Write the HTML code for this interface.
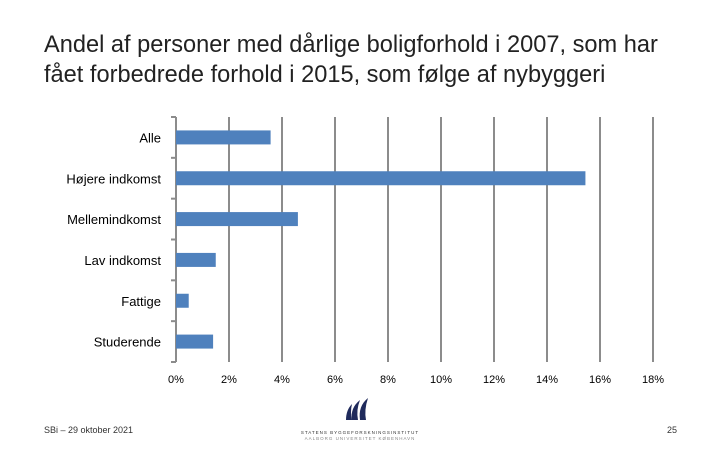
<!DOCTYPE html>
<html><head><meta charset="utf-8"><style>
body{margin:0;background:#fff;}
svg{display:block;font-family:"Liberation Sans",sans-serif;}
</style></head><body>
<svg width="720" height="450" viewBox="0 0 720 450">
<text x="44" y="52" font-size="23.6" fill="#222">Andel af personer med dårlige boligforhold i 2007, som har</text>
<text x="44" y="82" font-size="23.6" fill="#222">fået forbedrede forhold i 2015, som følge af nybyggeri</text>
<g id="grid"></g><g id="bars"></g><g id="ylabels"></g><g id="xlabels"></g>
<text x="44" y="433" font-size="9" fill="#333">SBi – 29 oktober 2021</text>
<text x="677" y="433" font-size="9" fill="#333" text-anchor="end">25</text>
<g>
<path d="M352 420 Q350 408 360 400 Q356 410 358 420Z M360 420 Q358 406 368 398 Q364 410 366 420Z M346 420 Q346 410 352 404 Q350 412 352 420Z" fill="#1f2a5c"/>
<text x="360" y="434" font-size="4.5" text-anchor="middle" fill="#333" letter-spacing="1">STATENS BYGGEFORSKNINGSINSTITUT</text>
<text x="360" y="440" font-size="4.5" text-anchor="middle" fill="#888" letter-spacing="1">AALBORG UNIVERSITET KØBENHAVN</text>
</g>
</svg>
<script>
const categories=["Alle","Højere indkomst","Mellemindkomst","Lav indkomst","Fattige","Studerende"];
const values=[3.57,15.45,4.6,1.5,0.48,1.4];
const ticks=[0,2,4,6,8,10,12,14,16,18];
const NS="http://www.w3.org/2000/svg";
const x0=176,x1=653,xmax=18,yTop=117,yBot=362;
const xs=v=>x0+(x1-x0)*v/xmax;
const band=(yBot-yTop)/categories.length;
function mk(t,a,p){const e=document.createElementNS(NS,t);for(const k in a)e.setAttribute(k,a[k]);document.getElementById(p).appendChild(e);return e;}
ticks.forEach((t,i)=>{
 if(i>0){const l=mk('line',{x1:xs(t),x2:xs(t),y1:yTop,y2:yBot,stroke:'#8c8c8c','stroke-width':2},'grid');
 
 }
 const tx=mk('text',{x:xs(t),y:383,'font-size':11,'text-anchor':'middle',fill:'#000'},'xlabels');
 tx.textContent=t+'%';
 
 
});
const ax=mk('line',{x1:x0,x2:x0,y1:yTop,y2:yBot,stroke:'#8c8c8c','stroke-width':2},'grid');


for(let i=0;i<=categories.length;i++){
 const tk=mk('line',{x1:x0-5,x2:x0,y1:yTop+band*i,y2:yTop+band*i,stroke:'#8c8c8c','stroke-width':2},'grid');
 
 
}
categories.forEach((c,i)=>{
 const cy=yTop+band*(i+0.5);
 const r=mk('rect',{x:x0,y:cy-7,width:xs(values[i])-x0,height:14,fill:'#4f81bd'},'bars');
 
 
 const t=mk('text',{x:161,y:cy+5,'font-size':13,'text-anchor':'end',fill:'#000'},'ylabels');
 t.textContent=c;
 
 
});
</script>
</body></html>
